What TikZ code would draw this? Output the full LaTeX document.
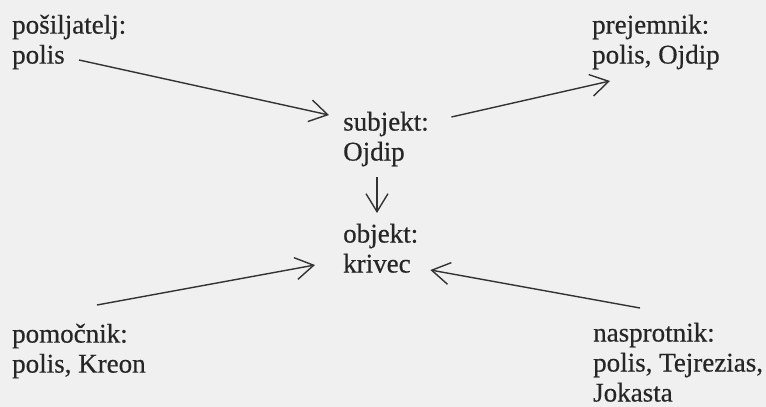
\documentclass[tikz,border=0pt]{standalone}
\usepackage{fontspec}
\setmainfont[FakeBold=0.5]{Liberation Serif}
\usetikzlibrary{arrows.meta}

\begin{document}
\begin{tikzpicture}[x=1pt,y=-1pt,
  actant/.style={anchor=north west,inner sep=0pt,align=left,text=black!85,
    font=\fontsize{27}{30}\selectfont},
  arr/.style={draw=black!80,line width=1.4pt,-{Straight Barb[length=18pt,width=22pt]}}]
  \useasboundingbox (0,0) rectangle (766,407);
  \fill[black!6] (0,0) rectangle (766,407);
  \node[actant] (sender) at (12,14.6) {pošiljatelj:\\polis};
  \node[actant] (receiver) at (592,14.6) {prejemnik:\\polis, Ojdip};
  \node[actant] (subject) at (343,111.6) {subjekt:\\Ojdip};
  \node[actant] (object) at (343,223.6) {objekt:\\krivec};
  \node[actant] (helper) at (12,323.6) {pomočnik:\\polis, Kreon};
  \node[actant] (opponent) at (593,322.6) {nasprotnik:\\polis, Tejrezias,\\Jokasta};
  \draw[arr] ([shift={(67,45.4)}]sender.north west) -- ([shift={(-14,3.4)}]subject.north west);
  \draw[arr] ([shift={(22.5,5.4)}]subject.north east) -- ([shift={(18,66.4)}]receiver.north west);
  \draw[arr] ([shift={(34,65.4)}]subject.north west) -- ([shift={(34,-10.6)}]object.north west);
  \draw[arr] ([shift={(85,-18.6)}]helper.north west) -- ([shift={(-28,41.4)}]object.north west);
  \draw[arr] ([shift={(47,-14.6)}]opponent.north west) -- ([shift={(12,46.4)}]object.north east);
\end{tikzpicture}
\end{document}
